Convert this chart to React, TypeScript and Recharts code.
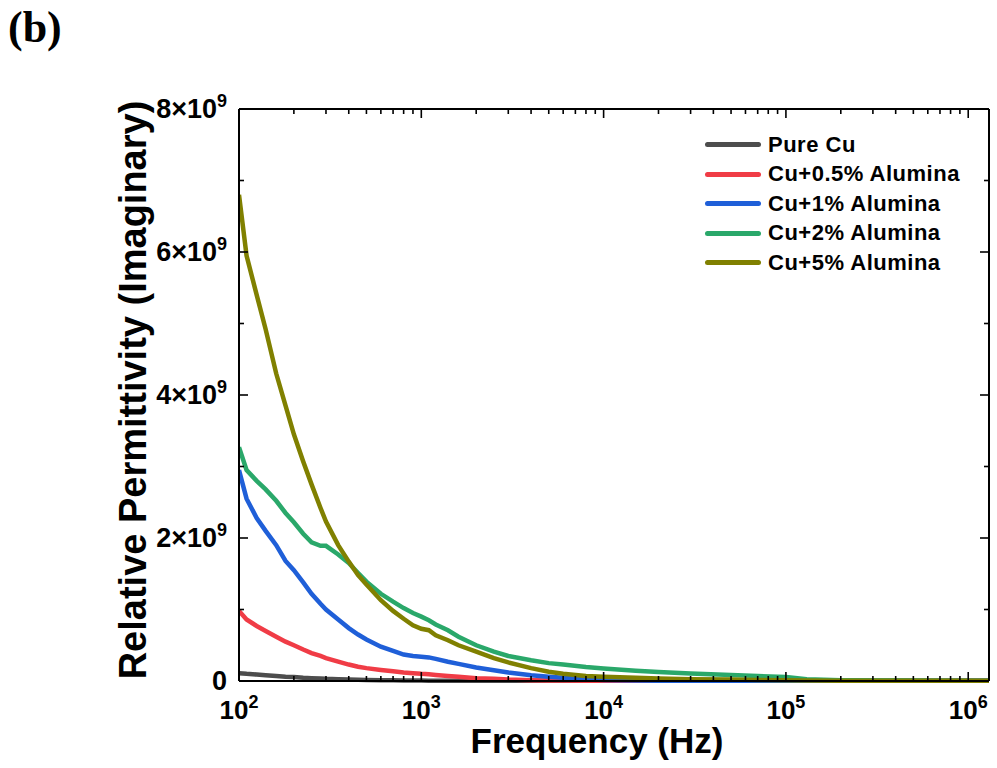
import React from 'react';
import { LineChart, Line, XAxis, YAxis, Label } from 'recharts';

// Frequency (Hz)
const freqs = [100, 110, 125, 140, 160, 180, 200, 225, 250, 280, 300, 350, 400, 450, 500, 600, 700, 800, 900, 1000, 1100, 1200, 1400, 1600, 2000, 2500, 3000, 4000, 5000, 6000, 8000, 10000, 15000, 20000, 30000, 50000, 70000, 100000, 130000, 200000, 500000, 1000000, 1300000];

// Relative permittivity (imaginary), in units of 1e9
const pureCu = [0.11, 0.10, 0.09, 0.08, 0.07, 0.06, 0.055, 0.045, 0.04, 0.035, 0.03, 0.025, 0.02, 0.017, 0.015, 0.012, 0.01, 0.008, 0.007, 0.006, 0.005, 0.005, 0.004, 0.004, 0.003, 0.003, 0.003, 0.002, 0.002, 0.002, 0.002, 0.002, 0.002, 0.002, 0.002, 0.002, 0.002, 0.002, 0.002, 0.002, 0.002, 0.002, 0.002];
const cu05 = [0.98, 0.86, 0.77, 0.70, 0.62, 0.55, 0.50, 0.44, 0.39, 0.35, 0.32, 0.27, 0.23, 0.20, 0.18, 0.155, 0.135, 0.12, 0.11, 0.10, 0.095, 0.085, 0.07, 0.06, 0.04, 0.03, 0.02, 0.012, 0.008, 0.006, 0.005, 0.004, 0.004, 0.003, 0.003, 0.003, 0.003, 0.003, 0.003, 0.003, 0.003, 0.003, 0.003];
const cu1 = [2.95, 2.55, 2.28, 2.10, 1.90, 1.68, 1.55, 1.38, 1.22, 1.08, 1.00, 0.86, 0.74, 0.65, 0.58, 0.48, 0.42, 0.37, 0.35, 0.34, 0.33, 0.31, 0.27, 0.24, 0.19, 0.15, 0.12, 0.08, 0.06, 0.045, 0.025, 0.015, 0.008, 0.005, 0.004, 0.003, 0.003, 0.003, 0.003, 0.003, 0.003, 0.003, 0.003];
const cu2 = [3.27, 2.95, 2.80, 2.68, 2.52, 2.35, 2.22, 2.06, 1.94, 1.89, 1.89, 1.77, 1.65, 1.51, 1.39, 1.22, 1.11, 1.02, 0.95, 0.90, 0.85, 0.79, 0.71, 0.62, 0.50, 0.41, 0.35, 0.29, 0.25, 0.23, 0.195, 0.175, 0.145, 0.125, 0.105, 0.085, 0.07, 0.055, 0.025, 0.012, 0.006, 0.004, 0.004];
const cu5 = [6.80, 5.95, 5.40, 4.92, 4.30, 3.85, 3.45, 3.07, 2.75, 2.42, 2.23, 1.90, 1.67, 1.48, 1.35, 1.13, 0.98, 0.87, 0.78, 0.73, 0.71, 0.64, 0.57, 0.50, 0.41, 0.32, 0.26, 0.18, 0.13, 0.10, 0.07, 0.06, 0.045, 0.035, 0.025, 0.02, 0.015, 0.01, 0.008, 0.005, 0.003, 0.002, 0.002];

const seriesNames = ['Pure Cu', 'Cu+0.5% Alumina', 'Cu+1% Alumina', 'Cu+2% Alumina', 'Cu+5% Alumina'];
const seriesKeys = ['pure', 'cu05', 'cu1', 'cu2', 'cu5'];
const seriesColors = ['#4d4d4d', '#f03c46', '#1f5fd8', '#2aa86a', '#808000'];
const seriesValues = [pureCu, cu05, cu1, cu2, cu5];

const xTicks = [100, 200, 300, 400, 500, 600, 700, 800, 900, 1000, 2000, 3000, 4000, 5000, 6000, 7000, 8000, 9000, 10000, 20000, 30000, 40000, 50000, 60000, 70000, 80000, 90000, 100000, 200000, 300000, 400000, 500000, 600000, 700000, 800000, 900000, 1000000];
const yTicks = [0, 1, 2, 3, 4, 5, 6, 7, 8];

const data = freqs.map((f, i) => {
  const row: any = { f };
  seriesKeys.forEach((k, j) => { row[k] = seriesValues[j][i]; });
  return row;
});

const FONT = '"Liberation Sans", Arial, sans-serif';

const isMajorX = (v: number) => Math.abs(Math.log10(v) - Math.round(Math.log10(v))) < 1e-6;
const isMajorY = (v: number) => v % 2 === 0;

const BottomTick = (props: any) => {
  const { x, y, payload } = props;
  const v = payload.value;
  const major = isMajorX(v);
  return (
    <g>
      <line x1={x} x2={x} y1={y} y2={y - (major ? 9 : 5)} stroke="#000" strokeWidth={1.6} />
      {major && (
        <text x={x} y={y + 38} textAnchor="middle" fontFamily={FONT} fontWeight="bold" fontSize={26} fill="#000">
          <tspan>10</tspan>
          <tspan dy={-11} fontSize={18}>{Math.round(Math.log10(v))}</tspan>
        </text>
      )}
    </g>
  );
};

const TopTick = (props: any) => {
  const { x, y, payload } = props;
  const major = isMajorX(payload.value);
  return <line x1={x} x2={x} y1={y} y2={y + (major ? 9 : 5)} stroke="#000" strokeWidth={1.6} />;
};

const LeftTick = (props: any) => {
  const { x, y, payload } = props;
  const v = payload.value;
  const major = isMajorY(v);
  return (
    <g>
      <line x1={x} x2={x + (major ? 9 : 5)} y1={y} y2={y} stroke="#000" strokeWidth={1.6} />
      {major && (
        <text x={x - 12} y={y + 9} textAnchor="end" fontFamily={FONT} fontWeight="bold" fontSize={27} fill="#000">
          {v === 0 ? (
            <tspan>0</tspan>
          ) : (
            <>
              <tspan>{`${v}×10`}</tspan>
              <tspan dy={-11} fontSize={18}>9</tspan>
            </>
          )}
        </text>
      )}
    </g>
  );
};

const RightTick = (props: any) => {
  const { x, y, payload } = props;
  const major = isMajorY(payload.value);
  return <line x1={x} x2={x - (major ? 9 : 5)} y1={y} y2={y} stroke="#000" strokeWidth={1.6} />;
};

const XTitle = (props: any) => {
  const { viewBox } = props;
  const cx = viewBox.x + viewBox.width / 2 - 17;
  return (
    <text x={cx} y={753} textAnchor="middle" fontFamily={FONT} fontWeight="bold" fontSize={35} fill="#000">
      Frequency (Hz)
    </text>
  );
};

const YTitle = () => {
  const cy = 390;
  const cx = 146;
  return (
    <text x={cx} y={cy} transform={`rotate(-90 ${cx} ${cy})`} textAnchor="middle" fontFamily={FONT} fontWeight="bold" fontSize={38} fill="#000">
      Relative Permittivity (Imaginary)
    </text>
  );
};

export default function App() {
  return (
    <div style={{ position: 'absolute', left: 0, top: 0, width: 997, height: 768, background: '#fff', overflow: 'hidden' }}>
      <div style={{ position: 'absolute', left: 8, top: 2, fontFamily: '"Liberation Serif", "Times New Roman", serif', fontWeight: 'bold', fontSize: 44, lineHeight: '52px', color: '#000' }}>
        (b)
      </div>
      <LineChart width={997} height={768} data={data} margin={{ top: 108, right: 7, bottom: 0, left: 0 }}>
        <XAxis
          dataKey="f"
          type="number"
          scale="log"
          domain={[100, 1300000]}
          allowDataOverflow
          ticks={xTicks}
          interval={0}
          tick={<BottomTick />}
          tickLine={false}
          tickSize={0}
          tickMargin={0}
          height={87}
          axisLine={{ stroke: '#000', strokeWidth: 2 }}
        >
          <Label content={<XTitle />} />
        </XAxis>
        <XAxis
          xAxisId="top"
          orientation="top"
          dataKey="f"
          type="number"
          scale="log"
          domain={[100, 1300000]}
          allowDataOverflow
          ticks={xTicks}
          interval={0}
          tick={<TopTick />}
          tickLine={false}
          tickSize={0}
          tickMargin={0}
          height={1}
          axisLine={{ stroke: '#000', strokeWidth: 2 }}
        />
        <YAxis
          type="number"
          domain={[0, 8]}
          ticks={yTicks}
          interval={0}
          tick={<LeftTick />}
          tickLine={false}
          tickSize={0}
          tickMargin={0}
          width={239}
          axisLine={{ stroke: '#000', strokeWidth: 2 }}
        >
          <Label content={<YTitle />} />
        </YAxis>
        <YAxis
          yAxisId="right"
          orientation="right"
          type="number"
          domain={[0, 8]}
          ticks={yTicks}
          interval={0}
          tick={<RightTick />}
          tickLine={false}
          tickSize={0}
          tickMargin={0}
          width={1}
          axisLine={{ stroke: '#000', strokeWidth: 2 }}
        />
        <Line
          xAxisId="top"
          yAxisId="right"
          dataKey="pure"
          stroke="none"
          strokeWidth={0}
          dot={false}
          activeDot={false}
          legendType="none"
          isAnimationActive={false}
        />
        {seriesKeys.map((k, j) => (
          <Line
            key={k}
            dataKey={k}
            type="linear"
            stroke={seriesColors[j]}
            strokeWidth={4.5}
            dot={false}
            activeDot={false}
            isAnimationActive={false}
          />
        ))}
      </LineChart>
      <div style={{ position: 'absolute', left: 705, top: 130, fontFamily: FONT, fontWeight: 'bold', fontSize: 22, color: '#000' }}>
        {seriesNames.map((n, j) => (
          <div key={n} style={{ display: 'flex', alignItems: 'center', height: 29.5, letterSpacing: 0.5 }}>
            <div style={{ width: 56, height: 5, borderRadius: 3, background: seriesColors[j], marginRight: 7 }} />
            <span>{n}</span>
          </div>
        ))}
      </div>
    </div>
  );
}
